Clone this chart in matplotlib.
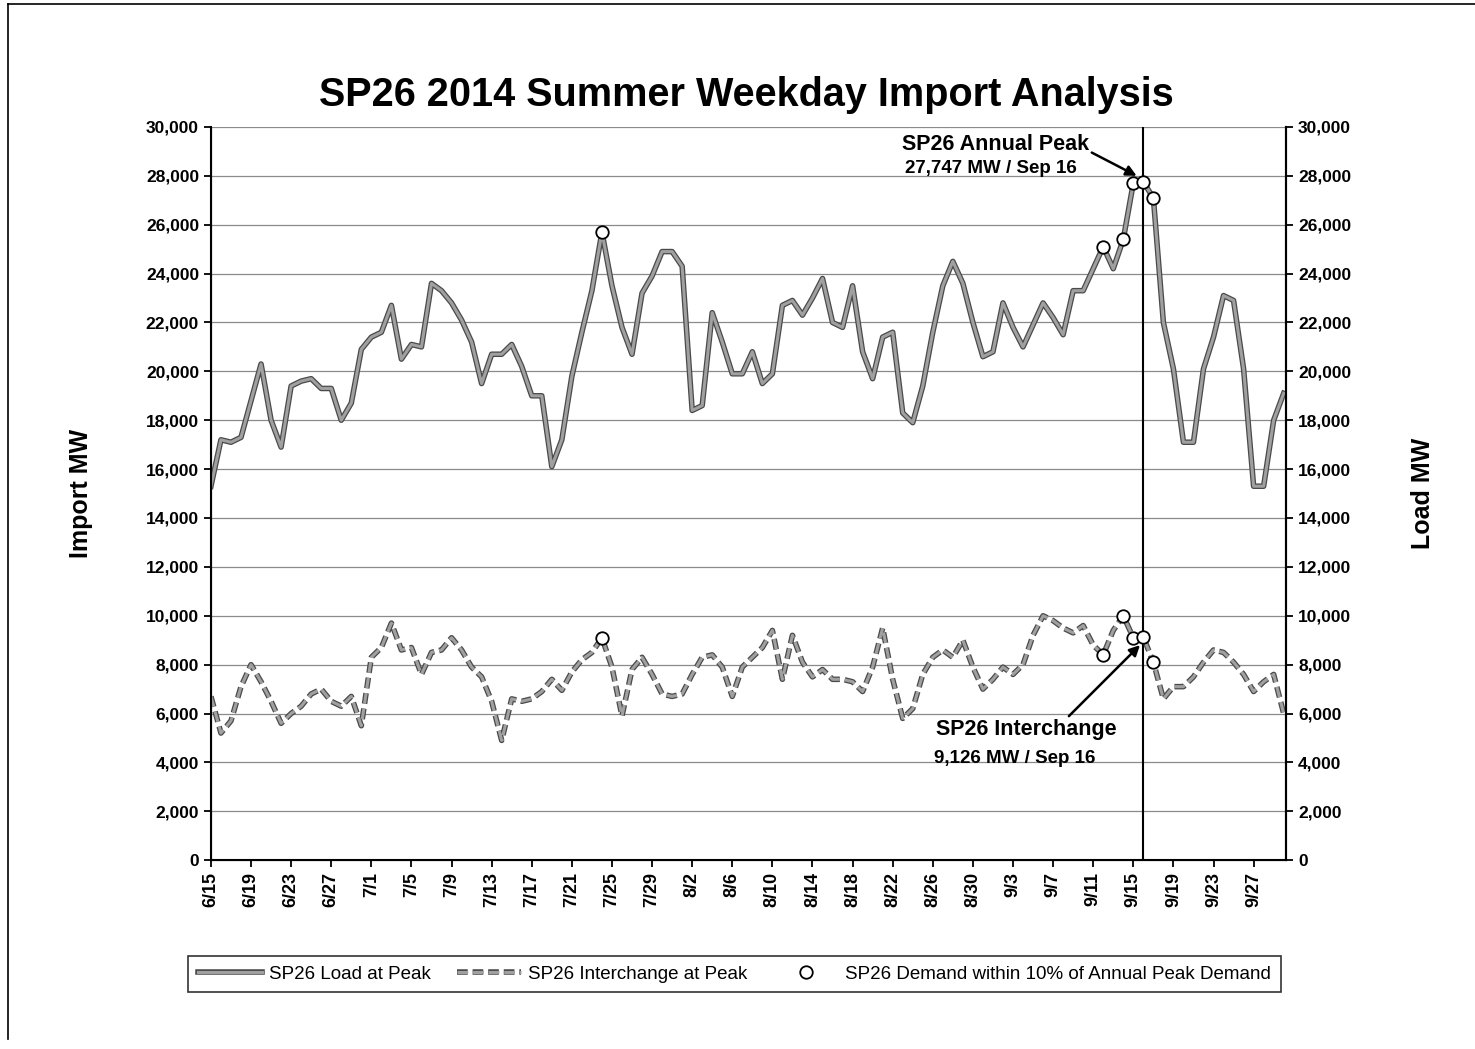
import matplotlib.pyplot as plt
import matplotlib.patheffects as pe
from matplotlib.lines import Line2D
from matplotlib.ticker import FuncFormatter, MultipleLocator
import pandas as pd

plt.rcParams['font.family'] = ['Liberation Sans', 'DejaVu Sans']

days = pd.date_range('2014-06-15', '2014-09-30', freq='D')

# SP26 daily load at peak hour, MW
load_mw = [
    15300, 17200, 17100, 17300, 18800, 20300, 18000, 16900, 19400, 19600,
    19700, 19300, 19300, 18000, 18700, 20900, 21400, 21600, 22700, 20500,
    21100, 21000, 23600, 23300, 22800, 22100, 21200, 19500, 20700, 20700,
    21100, 20200, 19000, 19000, 16100, 17200, 19800, 21600, 23300, 25700,
    23500, 21800, 20700, 23200, 23900, 24900, 24900, 24300, 18400, 18600,
    22400, 21200, 19900, 19900, 20800, 19500, 19900, 22700, 22900, 22300,
    23000, 23800, 22000, 21800, 23500, 20800, 19700, 21400, 21600, 18300,
    17900, 19400, 21600, 23500, 24500, 23600, 22000, 20600, 20800, 22800,
    21800, 21000, 21900, 22800, 22200, 21500, 23300, 23300, 24200, 25100,
    24200, 25400, 27700, 27747, 27100, 22000, 20100, 17100, 17100, 20100,
    21400, 23100, 22900, 20100, 15300, 15300, 18000, 19100,
]

# SP26 net interchange (imports) at the same hour, MW
interchange_mw = [
    6700, 5200, 5700, 7100, 8000, 7300, 6500, 5600, 6000, 6300,
    6800, 7000, 6500, 6300, 6700, 5500, 8300, 8700, 9700, 8600,
    8700, 7600, 8500, 8600, 9100, 8600, 7900, 7500, 6500, 4900,
    6600, 6500, 6600, 6900, 7400, 6950, 7700, 8200, 8500, 9100,
    7900, 5900, 7800, 8300, 7600, 6800, 6700, 6800, 7600, 8300,
    8400, 7900, 6700, 7900, 8300, 8700, 9400, 7400, 9200, 8100,
    7500, 7800, 7400, 7400, 7300, 6900, 7900, 9500, 7400, 5800,
    6200, 7600, 8300, 8600, 8300, 9000, 7900, 7000, 7400, 7900,
    7600, 8000, 9200, 10000, 9800, 9500, 9300, 9600, 8800, 8400,
    9400, 10000, 9100, 9126, 8100, 6600, 7100, 7100, 7500, 8100,
    8600, 8500, 8100, 7600, 6900, 7300, 7600, 6000,
]

# days with load within 10% of the annual peak
near_peak = ['2014-07-24', '2014-09-12', '2014-09-14', '2014-09-15',
             '2014-09-16', '2014-09-17']
peak_day = '2014-09-16'

load = pd.Series(load_mw, index=days)
inter = pd.Series(interchange_mw, index=days)
near = pd.to_datetime(near_peak)
peak = pd.Timestamp(peak_day)

fig = plt.figure(figsize=(14.75, 10.49), dpi=100)
ax = fig.add_axes([0.143, 0.180, 0.729, 0.699])

outline = [pe.Stroke(linewidth=4.0, foreground='#4a4a4a'), pe.Normal()]
ax.plot(days, load.values, color='#a0a0a0', lw=2.2, path_effects=outline,
        label='SP26 Load at Peak', zorder=3)
ax.plot(days, inter.values, color='#a0a0a0', lw=2.2, dashes=(3.5, 1.6),
        path_effects=outline, label='SP26 Interchange at Peak', zorder=3)
ax.plot(near, load[near].values, 'o', ms=9, mfc='white', mec='black', mew=1.3,
        label='SP26 Demand within 10% of Annual Peak Demand', zorder=4)
ax.plot(near, inter[near].values, 'o', ms=9, mfc='white', mec='black', mew=1.3,
        zorder=4)

ax.axvline(peak, color='black', lw=1.5, zorder=2)

ax.set_xlim(days[0], days[-1] + pd.Timedelta(hours=6))
ax.set_ylim(0, 30000)
ax.yaxis.set_major_locator(MultipleLocator(2000))
ax.yaxis.set_major_formatter(FuncFormatter(lambda v, p: f'{int(v):,}'))
ax.grid(axis='y', color='#8a8a8a', lw=0.9)
ax.set_axisbelow(True)

ticks = days[:105:4]
ax.set_xticks(ticks)
ax.set_xticklabels([f'{d.month}/{d.day}' for d in ticks], rotation=90,
                   fontsize=13, fontweight='bold')
ax.tick_params(axis='y', labelsize=12.5, direction='out', length=5, width=1.3)
ax.tick_params(axis='x', direction='out', length=5, width=1.3)
for t in ax.get_yticklabels():
    t.set_fontweight('bold')

for side in ['left', 'bottom', 'right']:
    ax.spines[side].set_linewidth(1.5)
ax.spines['top'].set_visible(False)

ax2 = ax.twinx()
ax2.set_ylim(ax.get_ylim())
ax2.yaxis.set_major_locator(MultipleLocator(2000))
ax2.yaxis.set_major_formatter(FuncFormatter(lambda v, p: f'{int(v):,}'))
ax2.tick_params(axis='y', labelsize=12.5, direction='out', length=5, width=1.3)
for t in ax2.get_yticklabels():
    t.set_fontweight('bold')
ax2.spines['top'].set_visible(False)
ax2.spines['right'].set_linewidth(1.5)

ax.set_ylabel('Import MW', fontsize=18, fontweight='bold', labelpad=38)
ax2.set_ylabel('Load MW', fontsize=18, fontweight='bold', labelpad=43)

fig.suptitle('SP26 2014 Summer Weekday Import Analysis', x=0.506, y=0.928,
             fontsize=28.5, fontweight='bold')

# callouts for the annual peak and the interchange on that day
ax.annotate('SP26 Annual Peak', xy=(peak - pd.Timedelta(hours=16), 28000),
            xytext=(pd.Timestamp('2014-09-01 06:00'), 29300),
            ha='center', va='center', fontsize=15.5, fontweight='bold',
            arrowprops=dict(arrowstyle='-|>', color='black', lw=1.8,
                            shrinkA=0, shrinkB=0,
                            relpos=(0.97, 0.3)))
ax.text(pd.Timestamp('2014-08-31 18:00'), 28300,
        f'{load[peak]:,} MW / Sep {peak.day}', ha='center', va='center',
        fontsize=13.5, fontweight='bold')

ax.annotate('SP26 Interchange', xy=(peak - pd.Timedelta(hours=8), 8800),
            xytext=(pd.Timestamp('2014-09-04 08:00'), 5350),
            ha='center', va='center', fontsize=15.5, fontweight='bold',
            arrowprops=dict(arrowstyle='-|>', color='black', lw=1.8,
                            shrinkA=0, shrinkB=0,
                            relpos=(0.72, 1.0)))
ax.text(pd.Timestamp('2014-09-03 04:00'), 4180,
        f'{inter[peak]:,} MW / Sep {peak.day}', ha='center', va='center',
        fontsize=13.5, fontweight='bold')

leg = fig.legend(loc='center', bbox_to_anchor=(0.498, 0.0715), ncol=3,
                 fontsize=13.5, frameon=True, fancybox=False,
                 edgecolor='black', handlelength=3.4, columnspacing=1.4,
                 handletextpad=0.4, borderpad=0.5)
leg.get_frame().set_linewidth(1.2)

# page border
fig.add_artist(Line2D([8 / 1475, 8 / 1475], [0.01, 1 - 4 / 1049],
                      transform=fig.transFigure, color='black', lw=1.2))
fig.add_artist(Line2D([8 / 1475, 1.0], [1 - 4 / 1049, 1 - 4 / 1049],
                      transform=fig.transFigure, color='black', lw=1.2))

fig.savefig('out.png', dpi=100)
